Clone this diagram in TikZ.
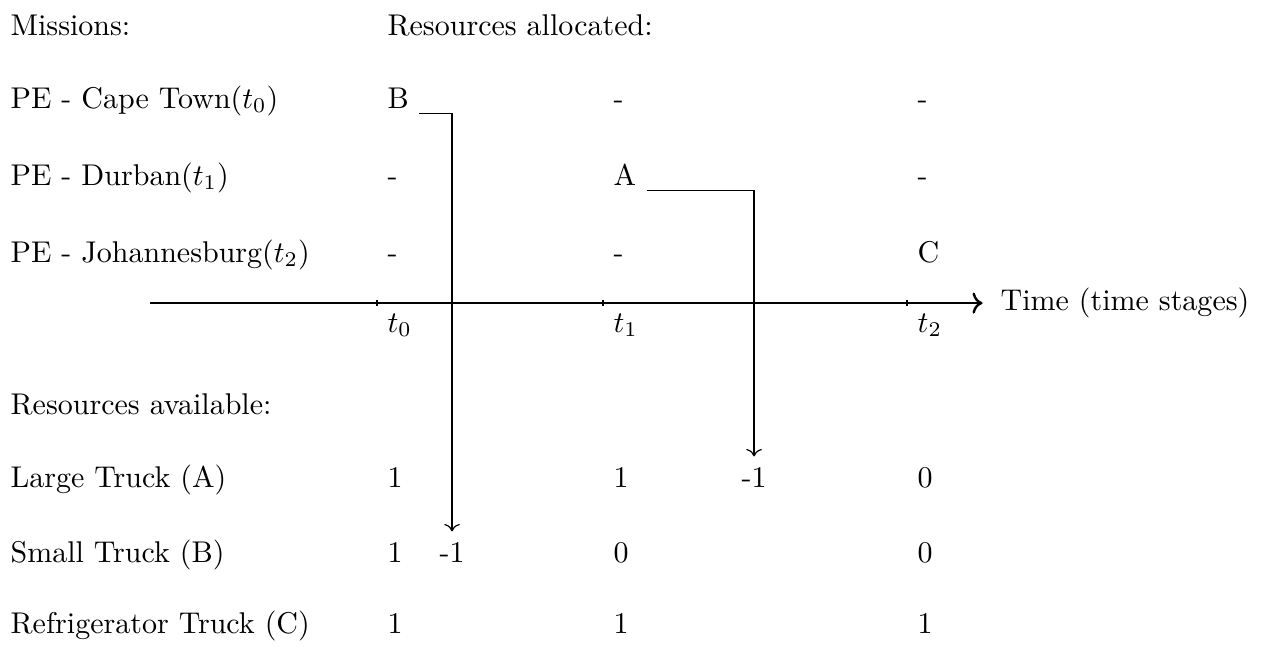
\documentclass[tikz,border=0pt]{standalone}
\usetikzlibrary{arrows.meta, positioning, calc}

\begin{document}
\begin{tikzpicture}[lbl/.style={anchor=base west}, num/.style={anchor=base}]
  \useasboundingbox (0,0) rectangle (14.78,-7.589);

  \node[lbl] (missions) at (0,-0.420) {Missions:};
  \node[lbl] (allocated) at (4.415,-0.420) {Resources allocated:};

  \foreach \r/\y/\town/\va/\vb/\vc in {0/-1.265/Cape Town/B/-/-, 1/-2.167/Durban/-/A/-, 2/-3.069/Johannesburg/-/-/C} {
    \node[lbl] (pe\r) at (0,\y) {PE - \town($t_{\r}$)};
    \node[lbl] (al\r0) at (4.415,\y) {\va};
    \node[lbl] (al\r1) at (7.062,\y) {\vb};
    \node[lbl] (al\r2) at (10.623,\y) {\vc};
  }

  % time axis
  \coordinate (ax0) at (1.757,-3.549);
  \node[anchor=west] (time) at (11.595,-3.549) {Time (time stages)};
  \draw[thick, ->, shorten >=2.5pt] (ax0) -- (time.west);
  \foreach \x/\c in {4.415/0, 7.062/1, 10.623/2} {
    \draw (\x,-3.549) ++(0,1pt) -- ++(0,-2pt);
    \node[anchor=north west] (t\c) at (\x,-3.549) {$t_{\c}$};
  }

  \node[lbl] (available) at (0,-4.850) {Resources available:};

  \foreach \r/\y/\truck/\va/\vb/\vc in {0/-5.704/Large Truck (A)/1/1/0, 1/-6.582/Small Truck (B)/1/0/0, 2/-7.425/Refrigerator Truck (C)/1/1/1} {
    \node[lbl] (tr\r) at (0,\y) {\truck};
    \node[lbl] (av\r0) at (4.415,\y) {\va};
    \node[lbl] (av\r1) at (7.062,\y) {\vb};
    \node[lbl] (av\r2) at (10.623,\y) {\vc};
  }

  \node[num] (useB) at (5.294,-6.582) {-1};
  \node[num] (useA) at (8.831,-5.704) {-1};

  \draw[->] ([yshift=1.7pt]al00.south east) -| (useB.north);
  \draw[->] ([yshift=1.7pt]al11.south east) -| (useA.north);
\end{tikzpicture}
\end{document}
